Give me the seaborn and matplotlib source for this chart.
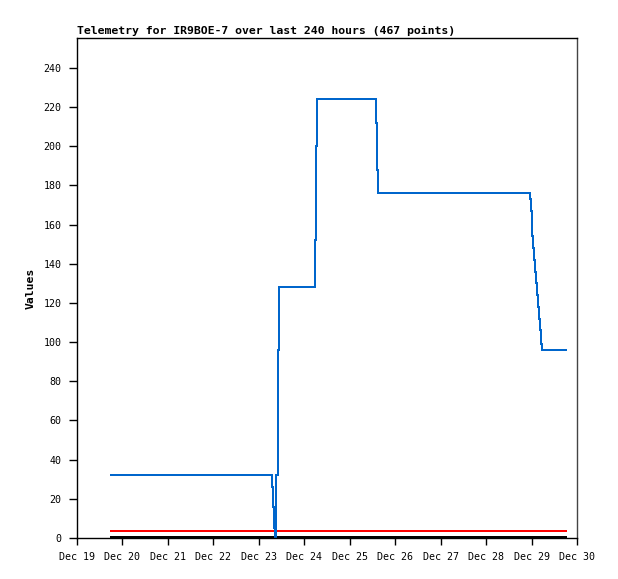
import numpy as np
import pandas as pd
import matplotlib
matplotlib.use("Agg")
import matplotlib.pyplot as plt
import matplotlib.dates as mdates
import seaborn as sns

# ---- data (hours since start, value) ----
start = pd.Timestamp("2023-12-19 18:00")
blue_hours = [0, 85, 85.5, 86, 86.5, 87, 88, 88.5, 107.5, 108, 108.5, 140, 140.5, 141,
              221, 221.5, 222, 222.5, 223, 223.5, 224, 224.5, 225, 225.5, 226, 226.5, 227, 227.5, 240]
blue_vals = [32, 26, 16, 5, 0, 32, 96, 128, 152, 200, 224, 212, 188, 176,
             173, 167, 161, 154, 148, 142, 136, 130, 124, 118, 112, 106, 99, 96, 96]
red_hours = [0, 240]
red_vals = [3.5, 3.5]
black_hours = [0, 240]
black_vals = [0.5, 0.5]

title = "Telemetry for IR9BOE-7 over last 240 hours (467 points)"
y_label = "Values"
y_ticks = list(range(0, 241, 20))

frames = []
for name, h, v in [("black", black_hours, black_vals), ("red", red_hours, red_vals),
                   ("blue", blue_hours, blue_vals)]:
    frames.append(pd.DataFrame({"time": start + pd.to_timedelta(h, unit="h"),
                                "value": v, "series": name}))
df = pd.concat(frames, ignore_index=True)

sns.set_style("white")
plt.rcParams["font.family"] = ["DejaVu Sans Mono"]
plt.rcParams["text.color"] = "black"
plt.rcParams["axes.labelcolor"] = "black"

fig = plt.figure(figsize=(6.18, 5.79), dpi=100)
ax = fig.add_axes([77 / 618, 1 - 538 / 579, 500 / 618, 500 / 579])

palette = {"black": "#000000", "red": "#FF0000", "blue": "#0066CC"}
widths = {"black": 1.3, "red": 1.3, "blue": 1.3}
for name in ["black", "red", "blue"]:
    sub = df[df["series"] == name]
    sns.lineplot(data=sub, x="time", y="value", ax=ax, color=palette[name],
                 linewidth=widths[name], drawstyle="steps-post", estimator=None,
                 sort=False, legend=False, antialiased=False)

ax.set_xlim(pd.Timestamp("2023-12-19"), pd.Timestamp("2023-12-30"))
ax.set_ylim(0, 255.3)
ax.set_yticks(y_ticks)
ax.xaxis.set_major_locator(mdates.DayLocator())
ax.xaxis.set_major_formatter(mdates.DateFormatter("%b %d"))
ax.tick_params(axis="both", direction="out", width=1, labelsize=7.2,
               colors="black", left=True, bottom=True)
ax.tick_params(axis="x", length=5, pad=5)
ax.tick_params(axis="y", length=6, pad=5)
for s in ["left", "bottom", "top"]:
    ax.spines[s].set_color("black")
    ax.spines[s].set_linewidth(1)
ax.spines["right"].set_color("#444444")
ax.spines["right"].set_linewidth(1)
ax.set_xlabel("")
ax.set_ylabel(y_label, fontsize=8.2, fontweight="bold", labelpad=6, color="black")
ax.set_title(title, loc="left", fontsize=8.25, fontweight="bold", pad=3, color="black")
ax.grid(False)

fig.savefig("out.png", dpi=100)
